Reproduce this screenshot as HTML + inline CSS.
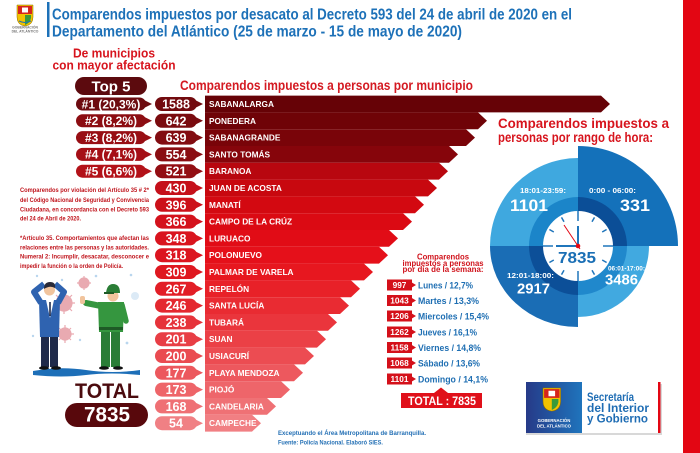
<!DOCTYPE html>
<html><head><meta charset="utf-8"><style>
html,body{margin:0;padding:0;background:#fff;}
svg{display:block;}
text{font-family:"Liberation Sans",sans-serif;font-weight:bold;}
</style></head><body>
<svg width="700" height="453" viewBox="0 0 700 453" xmlns="http://www.w3.org/2000/svg">
<rect width="700" height="453" fill="#fff"/>
<!-- right red stripe -->
<rect x="683" y="0" width="17" height="453" fill="#e30613"/>

<!-- header logo -->
<g transform="translate(17,5)">
 <path d="M0,0 H16 V12 Q16,20 8,21 Q0,20 0,12 Z" fill="#f2c200" stroke="#8a6a00" stroke-width="0.5"/>
 <rect x="1" y="1" width="14" height="8" fill="#d6251c"/>
 <rect x="5" y="2.5" width="6" height="5" fill="#fff"/>
 <path d="M8,10 L14,10 L14,13 Q13,18 8,20 Z" fill="#3a9a3a"/>
 <path d="M2,16 Q8,19 14,16" stroke="#1d71b8" stroke-width="1" fill="none"/>
</g>
<text x="25" y="28.5" font-size="3.4" fill="#777" text-anchor="middle">GOBERNACIÓN</text>
<text x="25" y="32.5" font-size="3.4" fill="#777" text-anchor="middle">DEL ATLÁNTICO</text>
<rect x="47" y="2" width="2.5" height="35" fill="#1d71b8"/>
<text x="52" y="19.5" font-size="15.5" fill="#1d71b8" textLength="520" lengthAdjust="spacingAndGlyphs">Comparendos impuestos por desacato al Decreto 593 del 24 de abril de 2020 en el</text>
<text x="52" y="36.5" font-size="15.5" fill="#1d71b8" textLength="410" lengthAdjust="spacingAndGlyphs">Departamento del Atlántico (25 de marzo - 15 de mayo de 2020)</text>

<!-- subtitles -->
<text x="114" y="57.5" font-size="12.5" fill="#d7141d" text-anchor="middle" textLength="82" lengthAdjust="spacingAndGlyphs">De municipios</text>
<text x="114" y="69.5" font-size="12.5" fill="#d7141d" text-anchor="middle" textLength="123" lengthAdjust="spacingAndGlyphs">con mayor afectación</text>
<rect x="75" y="77" width="72" height="18" rx="9" fill="#5c0a0e"/>
<text x="111" y="91.5" font-size="15" fill="#fff" text-anchor="middle">Top 5</text>
<text x="180" y="90" font-size="14" fill="#d41a22" textLength="293" lengthAdjust="spacingAndGlyphs">Comparendos impuestos a personas por municipio</text>

<!-- rank pills -->
<g font-size="12" fill="#fff" text-anchor="middle">
 <rect x="76" y="97.5" width="70" height="13" rx="6.5" fill="#6d0b10"/><polygon points="144,100 152,104 144,108" fill="#6d0b10"/>
 <text x="111" y="108.3">#1 (20,3%)</text>
 <rect x="76" y="114.3" width="70" height="13" rx="6.5" fill="#8c0d12"/><polygon points="144,116.8 152,120.8 144,124.8" fill="#8c0d12"/>
 <text x="111" y="125.1">#2 (8,2%)</text>
 <rect x="76" y="131.1" width="70" height="13" rx="6.5" fill="#980e14"/><polygon points="144,133.6 152,137.6 144,141.6" fill="#980e14"/>
 <text x="111" y="141.9">#3 (8,2%)</text>
 <rect x="76" y="147.9" width="70" height="13" rx="6.5" fill="#a50f16"/><polygon points="144,150.4 152,154.4 144,158.4" fill="#a50f16"/>
 <text x="111" y="158.7">#4 (7,1%)</text>
 <rect x="76" y="164.7" width="70" height="13" rx="6.5" fill="#b31219"/><polygon points="144,167.2 152,171.2 144,175.2" fill="#b31219"/>
 <text x="111" y="175.5">#5 (6,6%)</text>
</g>

<!-- bars -->
<g>
<polygon points="205,95.6 601,95.6 610,104 601,112.4 205,112.4" fill="#660206"/>
<polygon points="205,112.4 478,112.4 487,120.8 478,129.2 205,129.2" fill="#6f0307"/>
<polygon points="205,129.2 466,129.2 475,137.6 466,146 205,146" fill="#790409"/>
<polygon points="205,146 449,146 458,154.4 449,162.8 205,162.8" fill="#86050b"/>
<polygon points="205,162.8 439,162.8 448,171.2 439,179.6 205,179.6" fill="#b8070f"/>
<polygon points="205,179.6 428,179.6 437,188 428,196.4 205,196.4" fill="#c8080f"/>
<polygon points="205,196.4 415,196.4 424,204.8 415,213.2 205,213.2" fill="#d30911"/>
<polygon points="205,213.2 403,213.2 412,221.6 403,230 205,230" fill="#db0a13"/>
<polygon points="205,230 389,230 398,238.4 389,246.8 205,246.8" fill="#e10c16"/>
<polygon points="205,246.8 379,246.8 388,255.2 379,263.6 205,263.6" fill="#e5101a"/>
<polygon points="205,263.6 364,263.6 373,272 364,280.4 205,280.4" fill="#e7171f"/>
<polygon points="205,280.4 351,280.4 360,288.8 351,297.2 205,297.2" fill="#e82128"/>
<polygon points="205,297.2 340,297.2 349,305.6 340,314 205,314" fill="#e92b32"/>
<polygon points="205,314 328,314 337,322.4 328,330.8 205,330.8" fill="#ea353c"/>
<polygon points="205,330.8 317,330.8 326,339.2 317,347.6 205,347.6" fill="#eb4046"/>
<polygon points="205,347.6 305,347.6 314,356 305,364.4 205,364.4" fill="#ec4c52"/>
<polygon points="205,364.4 294,364.4 303,372.8 294,381.2 205,381.2" fill="#ed585e"/>
<polygon points="205,381.2 281,381.2 290,389.6 281,398 205,398" fill="#ee656a"/>
<polygon points="205,398 267,398 276,406.4 267,414.8 205,414.8" fill="#ef7175"/>
<polygon points="205,414.8 252,414.8 261,423.2 252,431.6 205,431.6" fill="#f17f83"/>
</g>

<!-- number pills -->
<g>
<rect x="155" y="97" width="42" height="14" rx="7" fill="#720a0e"/><polygon points="194,99.5 203,104 194,108.5" fill="#720a0e"/>
<rect x="155" y="113.8" width="42" height="14" rx="7" fill="#7a0b0f"/><polygon points="194,116.3 203,120.8 194,125.3" fill="#7a0b0f"/>
<rect x="155" y="130.6" width="42" height="14" rx="7" fill="#820c11"/><polygon points="194,133.1 203,137.6 194,142.1" fill="#820c11"/>
<rect x="155" y="147.4" width="42" height="14" rx="7" fill="#8a0d12"/><polygon points="194,149.9 203,154.4 194,158.9" fill="#8a0d12"/>
<rect x="155" y="164.2" width="42" height="14" rx="7" fill="#930e13"/><polygon points="194,166.7 203,171.2 194,175.7" fill="#930e13"/>
<rect x="155" y="181" width="42" height="14" rx="7" fill="#c5101a"/><polygon points="194,183.5 203,188 194,192.5" fill="#c5101a"/>
<rect x="155" y="197.8" width="42" height="14" rx="7" fill="#cc111a"/><polygon points="194,200.3 203,204.8 194,209.3" fill="#cc111a"/>
<rect x="155" y="214.6" width="42" height="14" rx="7" fill="#d4121c"/><polygon points="194,217.1 203,221.6 194,226.1" fill="#d4121c"/>
<rect x="155" y="231.4" width="42" height="14" rx="7" fill="#d9141e"/><polygon points="194,233.9 203,238.4 194,242.9" fill="#d9141e"/>
<rect x="155" y="248.2" width="42" height="14" rx="7" fill="#dc1520"/><polygon points="194,250.7 203,255.2 194,259.7" fill="#dc1520"/>
<rect x="155" y="265" width="42" height="14" rx="7" fill="#df1820"/><polygon points="194,267.5 203,272 194,276.5" fill="#df1820"/>
<rect x="155" y="281.8" width="42" height="14" rx="7" fill="#e21e26"/><polygon points="194,284.3 203,288.8 194,293.3" fill="#e21e26"/>
<rect x="155" y="298.6" width="42" height="14" rx="7" fill="#e4282f"/><polygon points="194,301.1 203,305.6 194,310.1" fill="#e4282f"/>
<rect x="155" y="315.4" width="42" height="14" rx="7" fill="#e6333a"/><polygon points="194,317.9 203,322.4 194,326.9" fill="#e6333a"/>
<rect x="155" y="332.2" width="42" height="14" rx="7" fill="#e83e45"/><polygon points="194,334.7 203,339.2 194,343.7" fill="#e83e45"/>
<rect x="155" y="349" width="42" height="14" rx="7" fill="#ea4b51"/><polygon points="194,351.5 203,356 194,360.5" fill="#ea4b51"/>
<rect x="155" y="365.8" width="42" height="14" rx="7" fill="#ec585d"/><polygon points="194,368.3 203,372.8 194,377.3" fill="#ec585d"/>
<rect x="155" y="382.6" width="42" height="14" rx="7" fill="#ee6569"/><polygon points="194,385.1 203,389.6 194,394.1" fill="#ee6569"/>
<rect x="155" y="399.4" width="42" height="14" rx="7" fill="#ef7074"/><polygon points="194,401.9 203,406.4 194,410.9" fill="#ef7074"/>
<rect x="155" y="416.2" width="42" height="14" rx="7" fill="#f08084"/><polygon points="194,418.7 203,423.2 194,427.7" fill="#f08084"/>
</g>
<g font-size="12.5" fill="#fff" text-anchor="middle">
<text x="176" y="108.5">1588</text><text x="176" y="125.3">642</text><text x="176" y="142.1">639</text>
<text x="176" y="158.9">554</text><text x="176" y="175.7">521</text><text x="176" y="192.5">430</text>
<text x="176" y="209.3">396</text><text x="176" y="226.1">366</text><text x="176" y="242.9">348</text>
<text x="176" y="259.7">318</text><text x="176" y="276.5">309</text><text x="176" y="293.3">267</text>
<text x="176" y="310.1">246</text><text x="176" y="326.9">238</text><text x="176" y="343.7">201</text>
<text x="176" y="360.5">200</text><text x="176" y="377.3">177</text><text x="176" y="394.1">173</text>
<text x="176" y="410.9">168</text><text x="176" y="427.7">54</text>
</g>
<g font-size="8.3" fill="#fff">
<text x="209" y="107">SABANALARGA</text><text x="209" y="123.8">PONEDERA</text><text x="209" y="140.6">SABANAGRANDE</text>
<text x="209" y="157.4">SANTO TOMÁS</text><text x="209" y="174.2">BARANOA</text><text x="209" y="191">JUAN DE ACOSTA</text>
<text x="209" y="207.8">MANATÍ</text><text x="209" y="224.6">CAMPO DE LA CRÚZ</text><text x="209" y="241.4">LURUACO</text>
<text x="209" y="258.2">POLONUEVO</text><text x="209" y="275">PALMAR DE VARELA</text><text x="209" y="291.8">REPELÓN</text>
<text x="209" y="308.6">SANTA LUCÍA</text><text x="209" y="325.4">TUBARÁ</text><text x="209" y="342.2">SUAN</text>
<text x="209" y="359">USIACURÍ</text><text x="209" y="375.8">PLAYA MENDOZA</text><text x="209" y="392.6">PIOJÓ</text>
<text x="209" y="409.4">CANDELARIA</text><text x="209" y="426.2">CAMPECHE</text>
</g>

<!-- left paragraph -->
<g font-size="6.5" fill="#c0141c">
<text x="20" y="192" textLength="129" lengthAdjust="spacingAndGlyphs">Comparendos por violación del Artículo 35 # 2*</text>
<text x="20" y="201.8" textLength="129" lengthAdjust="spacingAndGlyphs">del Código Nacional de Seguridad y Convivencia</text>
<text x="20" y="211.3" textLength="129" lengthAdjust="spacingAndGlyphs">Ciudadana, en concordancia con el Decreto 593</text>
<text x="20" y="220.6" textLength="61" lengthAdjust="spacingAndGlyphs">del 24 de Abril de 2020.</text>
<text x="20" y="240" textLength="129" lengthAdjust="spacingAndGlyphs">*Artículo 35. Comportamientos que afectan las</text>
<text x="20" y="249.3" textLength="129" lengthAdjust="spacingAndGlyphs">relaciones entre las personas y las autoridades.</text>
<text x="20" y="258.6" textLength="129" lengthAdjust="spacingAndGlyphs">Numeral 2: Incumplir, desacatar, desconocer e</text>
<text x="20" y="268" textLength="103" lengthAdjust="spacingAndGlyphs">impedir la función o la orden de Policía.</text>
</g>

<!-- illustration -->
<g>
 <g fill="#b9d6ee">
  <circle cx="37" cy="276" r="1.2"/><circle cx="62" cy="280" r="1.2"/><circle cx="96" cy="276" r="1.3"/>
  <circle cx="131" cy="275" r="1.3"/><circle cx="33" cy="336" r="1.2"/><circle cx="80" cy="340" r="1.2"/>
  <circle cx="127" cy="343" r="1.4"/><circle cx="135" cy="296" r="4" opacity="0.5"/>
 </g>
 <g stroke="#e7a1a9" stroke-width="1.2" fill="#e7a1a9" opacity="0.9">
  <circle cx="64" cy="303" r="8"/>
  <path d="M64,292 V295 M64,311 V314 M53,303 H56 M72,303 H75 M56,295 L58,297 M70,309 L72,311 M72,295 L70,297 M56,311 L58,309" fill="none"/>
  <circle cx="65" cy="334" r="6"/>
  <path d="M65,325 V328 M65,340 V343 M56,334 H59 M71,334 H74 M59,328 L61,330 M69,338 L71,340 M71,328 L69,330 M59,340 L61,338" fill="none"/>
  <circle cx="84" cy="283" r="5"/>
  <path d="M84,276 V278 M84,288 V290 M77,283 H79 M89,283 H91" fill="none"/>
 </g>
 <path d="M33,371 Q60,366 86,370 T140,370 L140,375 Q110,372 86,375 T33,375 Z" fill="#1d6fb8"/>
 <!-- man -->
 <rect x="41" y="333" width="8" height="34" fill="#1f2a4a"/>
 <rect x="50" y="333" width="8" height="34" fill="#1f2a4a"/>
 <ellipse cx="44" cy="368" rx="5" ry="1.8" fill="#111"/>
 <ellipse cx="56" cy="368" rx="5" ry="1.8" fill="#111"/>
 <path d="M39,300 L60,300 L59,337 L40,337 Z" fill="#2f63b0"/>
 <polygon points="46,300 54,300 50,318" fill="#fff"/>
 <line x1="50" y1="302" x2="50" y2="316" stroke="#1f2a4a" stroke-width="1.6"/>
 <path d="M41,303 L34,292 L44,284" stroke="#2f63b0" stroke-width="6" fill="none" stroke-linejoin="round"/>
 <path d="M58,303 L64,292 L55,284" stroke="#2f63b0" stroke-width="6" fill="none" stroke-linejoin="round"/>
 <circle cx="49.5" cy="290" r="5.5" fill="#f1c49d"/>
 <path d="M44,289 Q44,282 50,282 Q56,282 55,288 Q50,285 44,289 Z" fill="#2a2a38"/>
 <!-- police -->
 <rect x="101" y="330" width="9" height="37" fill="#2a7d36"/>
 <rect x="111" y="330" width="9" height="37" fill="#2a7d36"/>
 <ellipse cx="104" cy="368" rx="5" ry="1.8" fill="#111"/>
 <ellipse cx="118" cy="368" rx="5" ry="1.8" fill="#111"/>
 <path d="M98,302 L124,302 L123,332 L99,332 Z" fill="#35963f"/>
 <rect x="99" y="327" width="24" height="3" fill="#1e5a26"/>
 <path d="M101,306 L86,303" stroke="#35963f" stroke-width="6" fill="none" stroke-linecap="round"/>
 <path d="M122,305 L126,321" stroke="#35963f" stroke-width="5.5" fill="none" stroke-linecap="round"/>
 <rect x="80" y="296" width="5" height="8" rx="2" fill="#f1c49d"/>
 <circle cx="113" cy="296" r="5.5" fill="#f1c49d"/>
 <path d="M106,293 Q107,284 113,284 Q120,284 120,293 Z" fill="#2a7d36"/>
 <rect x="104" y="292" width="10" height="2" fill="#1e5a26"/>
</g>

<!-- left total -->
<text x="75" y="398" font-size="21" fill="#4b0b0e" textLength="64" lengthAdjust="spacingAndGlyphs">TOTAL</text>
<rect x="65" y="403" width="83" height="24" rx="12" fill="#58080c"/>
<text x="84" y="421.5" font-size="21" fill="#fff" textLength="46" lengthAdjust="spacingAndGlyphs">7835</text>

<!-- right title -->
<text x="498" y="128" font-size="14" fill="#d7141d" textLength="171" lengthAdjust="spacingAndGlyphs">Comparendos    impuestos    a</text>
<text x="498" y="142" font-size="14" fill="#d7141d" textLength="155" lengthAdjust="spacingAndGlyphs">personas por rango de hora:</text>

<!-- clock -->
<g>
 <path d="M578,246 L490,246 A88,88 0 0 1 578,158 Z" fill="#3fa8df"/>
 <path d="M578,246 L578,146 A100,100 0 0 1 678,246 Z" fill="#1471ba"/>
 <path d="M578,246 L578,327 A88,81 0 0 1 490,246 Z" fill="#1a6db5"/>
 <path d="M578,246 L649,246 A71,71 0 0 1 578,317 Z" fill="#41a9e0"/>
 <path d="M578,246 L529,246 A49,49 0 0 1 578,197 Z" fill="#1b85c9"/>
 <path d="M578,246 L578,197 A49,49 0 0 1 627,246 Z" fill="#0b4e97"/>
 <path d="M578,246 L578,295 A49,49 0 0 1 529,246 Z" fill="#0c4f98"/>
 <path d="M578,246 L627,246 A49,49 0 0 1 578,295 Z" fill="#2088cc"/>
 <circle cx="578" cy="246" r="35" fill="#fff"/>
 <g stroke="#1f75bb" stroke-width="1.5">
  <line x1="578" y1="211" x2="578" y2="221"/>
  <line x1="578" y1="271" x2="578" y2="281"/>
  <line x1="543" y1="246" x2="553" y2="246"/>
  <line x1="603" y1="246" x2="613" y2="246"/>
  <line x1="594.5" y1="217.4" x2="592" y2="221.8"/>
  <line x1="606.6" y1="229.5" x2="602.2" y2="232"/>
  <line x1="606.6" y1="262.5" x2="602.2" y2="260"/>
  <line x1="594.5" y1="274.6" x2="592" y2="270.2"/>
  <line x1="561.5" y1="274.6" x2="564" y2="270.2"/>
  <line x1="549.4" y1="262.5" x2="553.8" y2="260"/>
  <line x1="549.4" y1="229.5" x2="553.8" y2="232"/>
  <line x1="561.5" y1="217.4" x2="564" y2="221.8"/>
 </g>
 <line x1="578" y1="246" x2="556" y2="246" stroke="#1f75bb" stroke-width="2"/>
 <line x1="578" y1="246" x2="578" y2="226" stroke="#1f75bb" stroke-width="2"/>
 <line x1="580" y1="249" x2="564" y2="225" stroke="#e30613" stroke-width="1"/>
 <circle cx="578" cy="246" r="2.3" fill="#e30613"/>
 <text x="577" y="263" font-size="16" fill="#1a6fb5" text-anchor="middle" textLength="38" lengthAdjust="spacingAndGlyphs">7835</text>
 <g fill="#fff">
  <text x="520" y="193" font-size="7.5" textLength="46" lengthAdjust="spacingAndGlyphs">18:01-23:59:</text>
  <text x="510" y="211" font-size="17" textLength="38" lengthAdjust="spacingAndGlyphs">1101</text>
  <text x="589" y="193" font-size="7.5" textLength="47" lengthAdjust="spacingAndGlyphs">0:00 - 06:00:</text>
  <text x="620" y="211" font-size="17" textLength="30" lengthAdjust="spacingAndGlyphs">331</text>
  <text x="507" y="278" font-size="7.5" textLength="47" lengthAdjust="spacingAndGlyphs">12:01-18:00:</text>
  <text x="517" y="293.5" font-size="15" textLength="33" lengthAdjust="spacingAndGlyphs">2917</text>
  <text x="608" y="270.5" font-size="6" textLength="37" lengthAdjust="spacingAndGlyphs">06:01-17:00:</text>
  <text x="605" y="284.5" font-size="14.5" textLength="33" lengthAdjust="spacingAndGlyphs">3486</text>
 </g>
</g>

<!-- day of week -->
<g fill="#d0121b" font-size="8" text-anchor="middle">
 <text x="443" y="259.5" textLength="52" lengthAdjust="spacingAndGlyphs">Comparendos</text>
 <text x="443" y="265.8" textLength="81" lengthAdjust="spacingAndGlyphs">impuestos a personas</text>
 <text x="443" y="272" textLength="81" lengthAdjust="spacingAndGlyphs">por día de la semana:</text>
</g>
<g fill="#d4101a">
 <rect x="387" y="279.5" width="25" height="11"/><polygon points="411,282 416,285 411,288"/>
 <rect x="387" y="295" width="25" height="11"/><polygon points="411,297.5 416,300.5 411,303.5"/>
 <rect x="387" y="310.5" width="25" height="11"/><polygon points="411,313 416,316 411,319"/>
 <rect x="387" y="326.5" width="25" height="11"/><polygon points="411,329 416,332 411,335"/>
 <rect x="387" y="342" width="25" height="11"/><polygon points="411,344.5 416,347.5 411,350.5"/>
 <rect x="387" y="357.5" width="25" height="11"/><polygon points="411,360 416,363 411,366"/>
 <rect x="387" y="373.5" width="25" height="11"/><polygon points="411,376 416,379 411,382"/>
</g>
<g fill="#fff" font-size="8.3" text-anchor="middle">
 <text x="399.5" y="288">997</text><text x="399.5" y="303.5">1043</text><text x="399.5" y="319">1206</text>
 <text x="399.5" y="335">1262</text><text x="399.5" y="350.5">1158</text><text x="399.5" y="366">1068</text>
 <text x="399.5" y="382">1101</text>
</g>
<g fill="#1f6fb3" font-size="9.5">
 <text x="418" y="288.5" textLength="55" lengthAdjust="spacingAndGlyphs">Lunes / 12,7%</text>
 <text x="418" y="304" textLength="61" lengthAdjust="spacingAndGlyphs">Martes / 13,3%</text>
 <text x="418" y="319.5" textLength="71" lengthAdjust="spacingAndGlyphs">Miercoles / 15,4%</text>
 <text x="418" y="335.5" textLength="59" lengthAdjust="spacingAndGlyphs">Jueves / 16,1%</text>
 <text x="418" y="351" textLength="63" lengthAdjust="spacingAndGlyphs">Viernes / 14,8%</text>
 <text x="418" y="366.5" textLength="62" lengthAdjust="spacingAndGlyphs">Sábado / 13,6%</text>
 <text x="418" y="382.5" textLength="70" lengthAdjust="spacingAndGlyphs">Domingo / 14,1%</text>
</g>
<polygon points="434,393 441,387.5 448,393" fill="#e0101a"/>
<rect x="401" y="393" width="81" height="15" fill="#e0101a"/>
<text x="408" y="404.8" font-size="11.5" fill="#fff" textLength="68" lengthAdjust="spacingAndGlyphs">TOTAL : 7835</text>

<!-- footer -->
<text x="278" y="435" font-size="6.3" fill="#2470b5" textLength="148" lengthAdjust="spacingAndGlyphs">Exceptuando el Área Metropolitana de Barranquilla.</text>
<text x="278" y="444.5" font-size="6.3" fill="#2470b5" textLength="105" lengthAdjust="spacingAndGlyphs">Fuente: Policía Nacional. Elaboró SIES.</text>

<!-- secretaria logo -->
<defs>
 <linearGradient id="lg" x1="0" y1="0" x2="1" y2="0">
  <stop offset="0" stop-color="#263a88"/><stop offset="1" stop-color="#1f74bc"/>
 </linearGradient>
</defs>
<rect x="526" y="384" width="136" height="51" fill="#d8d8d8"/>
<rect x="526" y="382" width="134" height="51" fill="#fff"/>
<rect x="526" y="382" width="56" height="51" fill="url(#lg)"/>
<rect x="658" y="382" width="2.5" height="51" fill="#e30613"/>
<g transform="translate(543,388) scale(1.1)">
 <path d="M0,0 H16 V12 Q16,20 8,21 Q0,20 0,12 Z" fill="#f2c200" stroke="#8a6a00" stroke-width="0.5"/>
 <rect x="1" y="1" width="14" height="8" fill="#d6251c"/>
 <rect x="5" y="2.5" width="6" height="5" fill="#fff"/>
 <path d="M8,10 L14,10 L14,13 Q13,18 8,20 Z" fill="#3a9a3a"/>
</g>
<text x="554" y="422" font-size="4.3" fill="#fff" text-anchor="middle">GOBERNACIÓN</text>
<text x="554" y="427.5" font-size="4.3" fill="#fff" text-anchor="middle">DEL ATLÁNTICO</text>
<g fill="#1f6db4" font-size="12">
 <text x="587" y="401" textLength="47" lengthAdjust="spacingAndGlyphs">Secretaría</text>
 <text x="587" y="412" textLength="62" lengthAdjust="spacingAndGlyphs">del Interior</text>
 <text x="587" y="422.5" textLength="61" lengthAdjust="spacingAndGlyphs">y Gobierno</text>
</g>
</svg>
</body></html>
